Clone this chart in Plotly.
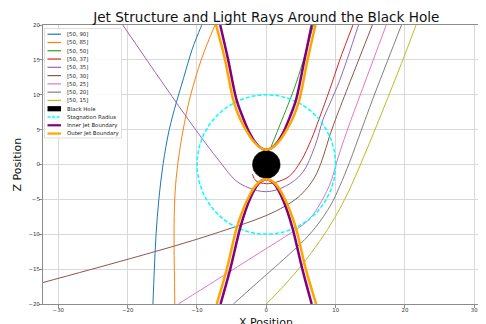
import numpy as np
import plotly.graph_objects as go

# ---------------- data ----------------
ray_labels = ["[50, 90]", "[50, 85]", "[50, 50]", "[50, 37]", "[50, 35]",
              "[50, 30]", "[50, 25]", "[50, 20]", "[50, 15]"]
ray_colors = ["#1f77b4", "#ff7f0e", "#2ca02c", "#d62728", "#9467bd",
              "#8c564b", "#e377c2", "#7f7f7f", "#bcbd22"]

ray_90_x = [-9.3, -10.7, -11.9, -13.0, -14.0, -14.9, -15.5, -15.9, -16.15, -16.35]
ray_90_z = [20.0, 16.5, 12.5, 8.8, 5.0, 0.0, -5.0, -10.0, -15.0, -20.0]

ray_85_x = [-7.4, -9.3, -10.9, -11.8, -12.5, -13.0, -13.25, -13.3, -13.25, -13.2]
ray_85_z = [20.0, 15.25, 10.0, 6.0, 2.0, -2.0, -6.0, -12.0, -16.0, -20.0]

ray_50_x = [0.55, 2.3, 4.0, 5.3, 6.8]
ray_50_z = [2.2, 6.5, 10.8, 14.8, 20.0]

ray_37_x = [12.5, 10.6, 9.2, 7.6, 6.5, 5.0, 3.3, 1.35, 0.0, -1.5, -2.0]
ray_37_z = [20.0, 15.0, 10.9, 6.5, 3.6, 0.5, -1.7, -2.55, -2.75, -2.35, -1.4]

ray_35_x = [13.3, 10.6, 9.2, 8.2, 7.0, 5.2, 2.8, 0.0, -2.5, -4.4, -6.7, -11.0, -20.7]
ray_35_z = [20.0, 12.1, 8.8, 6.5, 2.6, -1.2, -3.1, -3.9, -3.35, -2.3, 0.4, 6.1, 20.0]

ray_30_x = [15.3, 12.1, 10.0, 9.1, 8.1, 7.0, 5.6, 4.2, 1.35, -1.5, -4.4, -10.6, -16.1, -21.1, -32.5]
ray_30_z = [20.0, 11.9, 6.5, 4.0, 0.8, -1.8, -3.7, -5.0, -6.7, -7.9, -8.9, -10.9, -12.5, -13.9, -17.0]

ray_25_x = [17.3, 13.9, 11.6, 10.2, 9.3, 8.0, 6.15, 2.8, 0.0, -5.5, -10.6, -12.7]
ray_25_z = [20.0, 10.9, 4.7, 0.5, -2.5, -5.2, -7.9, -10.3, -12.05, -15.5, -18.7, -20.0]

ray_20_x = [19.5, 17.5, 15.4, 13.7, 12.0, 10.6, 9.3, 7.1, 5.0, 2.5, 0.0, -4.75]
ray_20_z = [20.0, 14.9, 9.5, 4.9, 0.3, -3.1, -5.8, -9.0, -11.3, -13.6, -15.8, -20.0]

ray_15_x = [21.6, 19.5, 17.5, 15.6, 13.8, 11.9, 9.9, 7.7, 5.3, 2.7, 0.0]
ray_15_z = [20.0, 14.5, 9.5, 4.8, 0.5, -3.8, -7.6, -11.0, -14.2, -17.2, -20.0]

rays_x = [ray_90_x, ray_85_x, ray_50_x, ray_37_x, ray_35_x, ray_30_x, ray_25_x, ray_20_x, ray_15_x]
rays_z = [ray_90_z, ray_85_z, ray_50_z, ray_37_z, ray_35_z, ray_30_z, ray_25_z, ray_20_z, ray_15_z]

# jet boundaries (upper and lower branches)
inner_up_x = [-6.65, -5.5, -4.3, -3.4, -2.5, -1.6, -0.8, 0.0, 0.8, 1.6, 2.5, 3.4, 4.3, 5.5, 6.55]
inner_up_z = [20.0, 15.0, 9.3, 6.8, 4.7, 3.2, 2.4, 2.1, 2.4, 3.2, 4.7, 6.8, 9.3, 15.0, 20.0]
outer_up_x = [-7.25, -5.95, -4.75, -3.9, -2.9, -2.0, -1.0, 0.0, 1.0, 2.0, 2.9, 3.9, 4.75, 5.95, 7.1]
outer_up_z = [20.0, 15.0, 9.2, 6.8, 4.9, 3.5, 2.5, 2.1, 2.5, 3.5, 4.9, 6.8, 9.2, 15.0, 20.0]
inner_lo_x = [-6.6, -5.2, -3.8, -3.0, -2.2, -1.4, -0.7, 0.0, 0.7, 1.4, 2.2, 3.0, 3.8, 5.2, 6.55]
inner_lo_z = [-20.0, -15.0, -9.2, -6.6, -4.6, -3.1, -2.35, -2.1, -2.35, -3.1, -4.6, -6.6, -9.2, -15.0, -20.0]
outer_lo_x = [-7.15, -5.7, -4.3, -3.4, -2.5, -1.6, -0.8, 0.0, 0.8, 1.6, 2.5, 3.4, 4.3, 5.7, 7.2]
outer_lo_z = [-20.0, -15.0, -9.2, -6.6, -4.6, -3.1, -2.35, -2.1, -2.35, -3.1, -4.6, -6.6, -9.2, -15.0, -20.0]

bh_radius = 2.0
stag_radius = 10.0

extra_labels = ["Black Hole", "Stagnation Radius", "Inner Jet Boundary", "Outer Jet Boundary"]
x_ticks = [-30, -20, -10, 0, 10, 20, 30]
z_ticks = [-20, -15, -10, -5, 0, 5, 10, 15, 20]

# ---------------- figure ----------------
FONT = "DejaVu Sans"
fig = go.Figure()

for lab, col, xs, zs in zip(ray_labels, ray_colors, rays_x, rays_z):
    fig.add_trace(go.Scatter(x=xs, y=zs, mode="lines", name=lab,
                             line=dict(color=col, width=1, shape="spline", smoothing=1.0),
                             showlegend=False))

theta = np.linspace(0, 2 * np.pi, 241)
fig.add_trace(go.Scatter(x=bh_radius * np.cos(theta), y=bh_radius * np.sin(theta),
                         mode="lines", fill="toself", fillcolor="black",
                         line=dict(color="black", width=0.5), name="Black Hole",
                         showlegend=False))
fig.add_trace(go.Scatter(x=stag_radius * np.cos(theta), y=stag_radius * np.sin(theta),
                         mode="lines", line=dict(color="cyan", width=1.5, dash="4px,2px"),
                         name="Stagnation Radius", showlegend=False))
fig.add_trace(go.Scatter(x=inner_up_x + [None] + inner_lo_x, y=inner_up_z + [None] + inner_lo_z,
                         mode="lines", line=dict(color="purple", width=2.5, shape="spline"),
                         name="Inner Jet Boundary", showlegend=False, connectgaps=False))
fig.add_trace(go.Scatter(x=outer_up_x + [None] + outer_lo_x, y=outer_up_z + [None] + outer_lo_z,
                         mode="lines", line=dict(color="orange", width=2.5, shape="spline"),
                         name="Outer Jet Boundary", showlegend=False, connectgaps=False))

# ---------------- layout geometry ----------------
# the page body has an 8px margin; the figure fills the rest of the 486x324 window
OFF = 8
W, H = 486 - OFF, 324 - OFF
ML, MR, MT, MB = 43 - OFF, 0, 25 - OFF, 20
pw, ph = W - ML - MR, H - MT - MB
X0_PX = 266.3 - OFF          # pixel column of x = 0 inside the figure
PX_PER_UNIT = 6.933


def px_to_paper(px, py):
    """page pixel -> paper coordinates"""
    return (px - OFF - ML) / pw, (H - MB - (py - OFF)) / ph


# ---------------- hand-drawn legend (matplotlib-like compact box) ----------------
shapes = []
annotations = []
bx0, by0 = px_to_paper(44.5, 138)
bx1, by1 = px_to_paper(121.5, 28.5)
shapes.append(dict(type="rect", xref="paper", yref="paper", x0=bx0, y0=by0, x1=bx1, y1=by1,
                   fillcolor="rgba(255,255,255,0.85)", line=dict(color="#d6d6d6", width=0.8),
                   layer="above"))
leg_labels = ray_labels + extra_labels
leg_styles = [dict(color=c, width=1.2, dash="solid") for c in ray_colors] + [
    None,
    dict(color="cyan", width=1.5, dash="3px,1.5px"),
    dict(color="purple", width=2.2, dash="solid"),
    dict(color="orange", width=2.2, dash="solid"),
]
for i, (lab, sty) in enumerate(zip(leg_labels, leg_styles)):
    py = 34.2 + 8.28 * i
    xa, ya = px_to_paper(47.5, py)
    xb, _ = px_to_paper(61.0, py)
    if sty is None:
        _, yt = px_to_paper(0, py - 2.6)
        _, yb = px_to_paper(0, py + 2.6)
        shapes.append(dict(type="rect", xref="paper", yref="paper", x0=xa, x1=xb, y0=yb, y1=yt,
                           fillcolor="black", line=dict(width=0), layer="above"))
    else:
        shapes.append(dict(type="line", xref="paper", yref="paper", x0=xa, x1=xb, y0=ya, y1=ya,
                           line=sty, layer="above"))
    xt, _ = px_to_paper(64.5, py)
    annotations.append(dict(text=lab, xref="paper", yref="paper", x=xt, y=ya,
                            xanchor="left", yanchor="middle", showarrow=False,
                            font=dict(family=FONT, size=5.4, color="#222")))

# axis titles placed as in the reference (the x title is partly below the window edge)
xt_x, xt_y = px_to_paper(266.3, 314.0)
annotations.append(dict(text="X Position", xref="paper", yref="paper", x=xt_x, y=xt_y,
                        xanchor="center", yanchor="top", showarrow=False,
                        font=dict(family=FONT, size=11, color="#111")))
yt_x, yt_y = px_to_paper(18.0, 164.6)
annotations.append(dict(text="Z Position", xref="paper", yref="paper", x=yt_x, y=yt_y,
                        xanchor="center", yanchor="middle", textangle=-90, showarrow=False,
                        font=dict(family=FONT, size=11, color="#111")))

fig.update_layout(
    width=W, height=H,
    margin=dict(l=ML, r=MR, t=MT, b=MB, pad=0),
    paper_bgcolor="white", plot_bgcolor="white",
    font=dict(family=FONT, color="#222"),
    title=dict(text="Jet Structure and Light Rays Around the Black Hole",
               x=X0_PX / W, xanchor="center", xref="container",
               y=1 - (17.5 - OFF) / H, yref="container", yanchor="middle",
               font=dict(family=FONT, size=13.6, color="#111")),
    shapes=shapes, annotations=annotations,
    showlegend=False,
)


def tick_text(vals):
    return [("\u2212" + str(-t)) if t < 0 else str(t) for t in vals]


fig.update_xaxes(range=[(ML - X0_PX) / PX_PER_UNIT, (W - MR - X0_PX) / PX_PER_UNIT],
                 tickvals=x_ticks, ticktext=tick_text(x_ticks),
                 showgrid=True, gridcolor="#d9d9d9", gridwidth=0.8, zeroline=False,
                 showline=True, linecolor="#8c8c8c", linewidth=1.2, mirror=True,
                 ticks="outside", ticklen=3, tickwidth=0.8, tickcolor="#8c8c8c",
                 ticklabelstandoff=-3,
                 tickfont=dict(family=FONT, size=5.4, color="#333"),
                 automargin=False)
fig.update_yaxes(range=[-20, 20],
                 tickvals=z_ticks, ticktext=tick_text(z_ticks),
                 showgrid=True, gridcolor="#d9d9d9", gridwidth=0.8, zeroline=False,
                 showline=True, linecolor="#8c8c8c", linewidth=1.2,
                 ticks="outside", ticklen=3, tickwidth=0.8, tickcolor="#8c8c8c",
                 ticklabelstandoff=-2,
                 tickfont=dict(family=FONT, size=5.4, color="#333"),
                 automargin=False)

fig.write_html("out.html")
